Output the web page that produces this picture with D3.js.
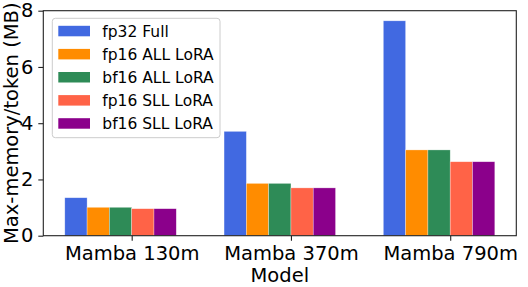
<!DOCTYPE html>
<html lang="en">
  <head>
    <meta charset="utf-8">
    <title>Max memory per token</title>
    <script src="https://d3js.org/d3.v7.min.js"></script>
    <style>
      body { margin: 0; background: #fff; }
      text { font-family: "DejaVu Sans", sans-serif; fill: #000; }
    </style>
  </head>
  <body>
    <div id="chart"></div>
    <script>
      // data
      var models = ["Mamba 130m", "Mamba 370m", "Mamba 790m"];
      var seriesNames = ["fp32 Full", "fp16 ALL LoRA", "bf16 ALL LoRA", "fp16 SLL LoRA", "bf16 SLL LoRA"];
      var seriesColors = ["#4169E1", "#FF8C00", "#2E8B57", "#FF6347", "#8B008B"];
      var fp32Full = [1.35, 3.71, 7.64];
      var fp16All = [1.01, 1.86, 3.05];
      var bf16All = [1.01, 1.86, 3.05];
      var fp16Sll = [0.96, 1.70, 2.63];
      var bf16Sll = [0.96, 1.70, 2.63];
      var yTicks = [0, 2, 4, 6, 8];

      var series = [fp32Full, fp16All, bf16All, fp16Sll, bf16Sll];

      var width = 528, height = 287;
      var margin = {top: 10.7, right: 11.7, bottom: 51.3, left: 43.3};
      var barW = 0.14;

      var svg = d3.select("#chart").append("svg")
          .attr("width", width)
          .attr("height", height);

      // x in category units, with matplotlib-like 5% padding
      var x = d3.scaleLinear()
          .domain([-0.555, 2.415])
          .range([margin.left, width - margin.right]);
      var y = d3.scaleLinear()
          .domain([0, 8])
          .range([height - margin.bottom, margin.top]);

      // bars
      series.forEach(function(vals, k) {
        svg.append("g").selectAll("rect")
            .data(vals)
            .enter().append("rect")
            .attr("x", function(d, i) { return x(i + (k - 3) * barW); })
            .attr("width", function(d, i) { return x(i + (k - 2) * barW) - x(i + (k - 3) * barW); })
            .attr("y", function(d) { return y(d); })
            .attr("height", function(d) { return y(0) - y(d); })
            .attr("fill", seriesColors[k])
            .attr("stroke", "#fff")
            .attr("stroke-opacity", 0.5)
            .attr("stroke-width", 0.6);
      });

      // frame
      svg.append("rect")
          .attr("x", x.range()[0])
          .attr("y", y.range()[1])
          .attr("width", x.range()[1] - x.range()[0])
          .attr("height", y.range()[0] - y.range()[1])
          .attr("fill", "none")
          .attr("stroke", "#222")
          .attr("stroke-width", 1.1);

      // axes
      var xAxis = svg.append("g")
          .attr("transform", "translate(0," + y(0) + ")")
          .call(d3.axisBottom(x).tickValues([0, 1, 2])
                .tickFormat(function(d) { return models[d]; })
                .tickSize(5).tickPadding(5));
      var yAxis = svg.append("g")
          .attr("transform", "translate(" + x.range()[0] + ",0)")
          .call(d3.axisLeft(y).tickValues(yTicks).tickSize(5).tickPadding(5));
      [xAxis, yAxis].forEach(function(g) {
        g.select(".domain").remove();
        g.selectAll("line").attr("stroke", "#222").attr("stroke-width", 1.1);
        g.selectAll("text").style("font-size", "19.5px").attr("fill", "#000");
      });

      // axis labels
      svg.append("text")
          .attr("x", (x.range()[0] + x.range()[1]) / 2)
          .attr("y", 281.5)
          .attr("text-anchor", "middle")
          .style("font-size", "19.5px")
          .text("Model");
      svg.append("text")
          .attr("transform", "translate(17.5," + ((y.range()[0] + y.range()[1]) / 2) + ") rotate(-90)")
          .attr("text-anchor", "middle")
          .style("font-size", "19.5px")
          .text("Max-memory/token (MB)");

      // legend
      var legend = svg.append("g");
      legend.append("rect")
          .attr("x", 52.3).attr("y", 18.3)
          .attr("width", 167.7).attr("height", 119.4)
          .attr("rx", 3)
          .attr("fill", "#fff").attr("fill-opacity", 0.8)
          .attr("stroke", "#ccc").attr("stroke-width", 1);
      var items = legend.selectAll("g.item")
          .data(seriesNames)
          .enter().append("g")
          .attr("class", "item")
          .attr("transform", function(d, i) { return "translate(0," + (31 + i * 23.1) + ")"; });
      items.append("rect")
          .attr("x", 58.3).attr("y", -5.2)
          .attr("width", 31.7).attr("height", 10.5)
          .attr("fill", function(d, i) { return seriesColors[i]; });
      items.append("text")
          .attr("x", 102.3)
          .attr("y", 5.6)
          .style("font-size", "15.5px")
          .text(function(d) { return d; });
    </script>
  </body>
</html>
